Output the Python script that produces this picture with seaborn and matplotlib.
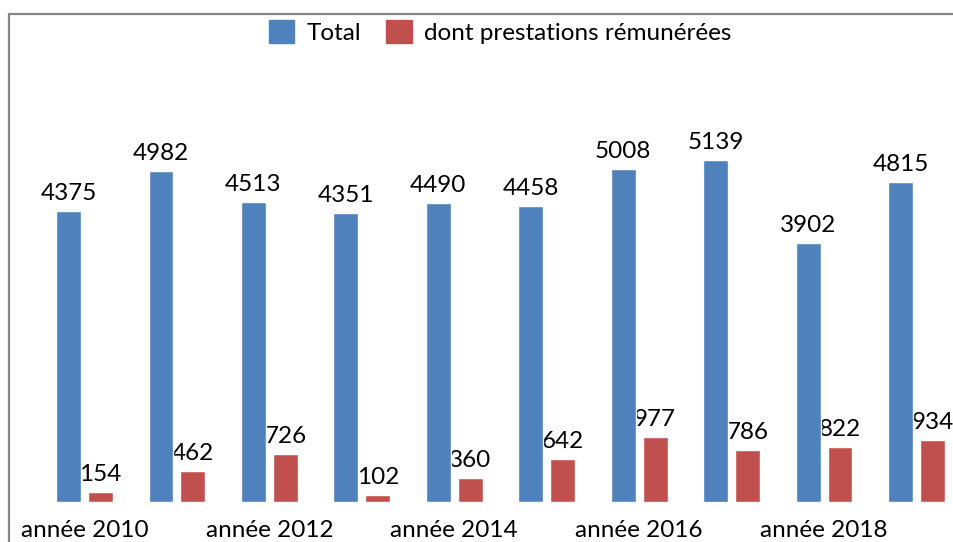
import pandas as pd
import numpy as np
import matplotlib.pyplot as plt
import seaborn as sns
from matplotlib.lines import Line2D

years = ["année 2010", "année 2011", "année 2012", "année 2013", "année 2014",
         "année 2015", "année 2016", "année 2017", "année 2018", "année 2019"]
total = [4375, 4982, 4513, 4351, 4490, 4458, 5008, 5139, 3902, 4815]
remunerees = [154, 462, 726, 102, 360, 642, 977, 786, 822, 934]
series = ["Total", "dont prestations rémunérées"]
colors = ["#4F81BD", "#C0504D"]

df = pd.DataFrame({
    "annee": years * 2,
    "valeur": total + remunerees,
    "serie": [series[0]] * len(years) + [series[1]] * len(years),
})

sns.set_style("white")
plt.rcParams['font.family'] = ['Lato', 'DejaVu Sans']
plt.rcParams['text.color'] = 'black'
plt.rcParams['xtick.color'] = 'black'
fs = 17.5

W, H = 954, 542
fig = plt.figure(figsize=(W / 100, H / 100), dpi=100)
ax = fig.add_axes([9 / W, (H - 502) / H, 1 - 9 / W, (502 - 13) / H])

sns.barplot(data=df, x="annee", y="valeur", hue="serie", palette=colors,
            width=0.69, gap=0.22, saturation=1, ax=ax, legend=False)

for cont in ax.containers:
    ax.bar_label(cont, padding=5, fontsize=fs, color="black", zorder=0.5)

ax.set_xlim(-0.817, 9.406)
ax.set_ylim(0, 7353)
ax.set_yticks([])
ax.set_xticks(range(len(years)))
ax.set_xticklabels([y if i % 2 == 0 else "" for i, y in enumerate(years)], fontsize=fs)
ax.tick_params(axis="x", length=0, pad=13, labelcolor="black")
ax.set_xlabel("")
ax.set_ylabel("")
for s in ax.spines.values():
    s.set_visible(False)

# chart frame (cropped on right and bottom)
fig.add_artist(Line2D([9.5 / W, 9.5 / W], [0, 1 - 13.5 / H], color="#868686", lw=1.6))
fig.add_artist(Line2D([9.5 / W, 1], [1 - 13.5 / H, 1 - 13.5 / H], color="#868686", lw=1.6))

handles = [plt.Rectangle((0, 0), 1, 1, color=c) for c in colors]
fig.legend(handles, series, loc="center", bbox_to_anchor=(500 / W, 1 - 32 / H), ncol=2,
           frameon=False, fontsize=fs, handlelength=1.05, handleheight=1.05,
           handletextpad=0.5, columnspacing=1.05, labelcolor="black")

fig.savefig("out.png", dpi=100)
